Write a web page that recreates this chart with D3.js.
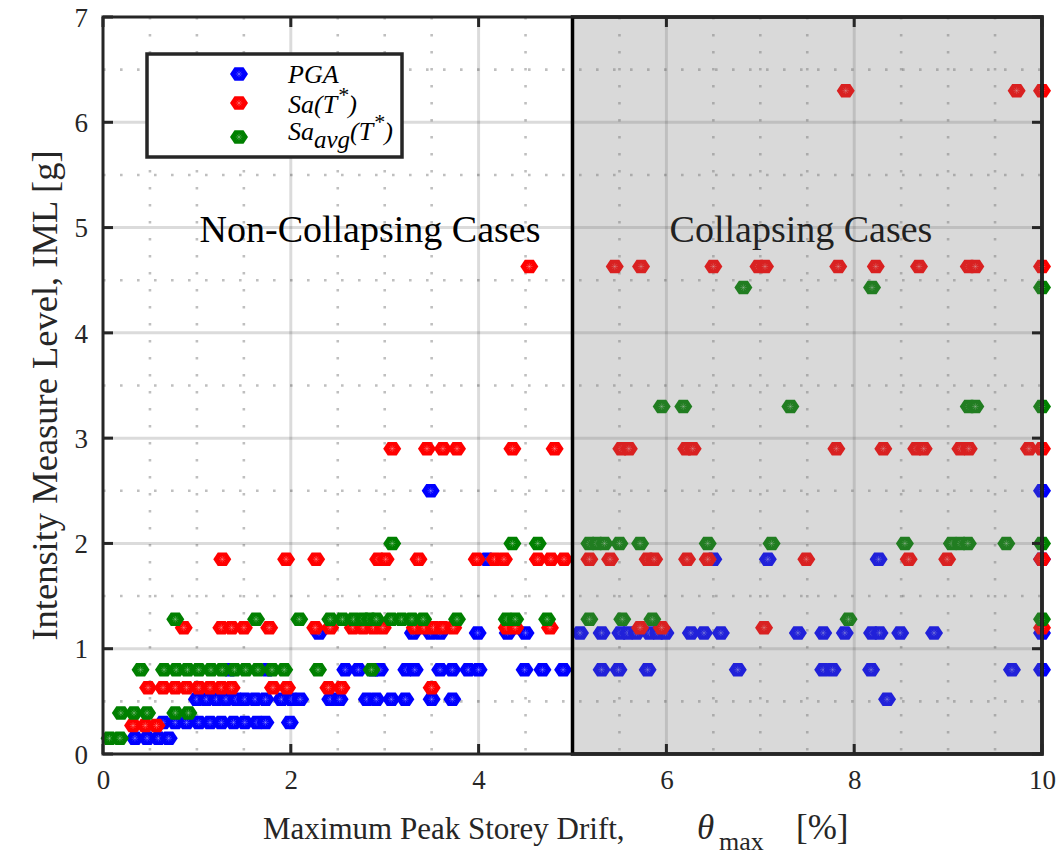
<!DOCTYPE html>
<html>
<head>
<meta charset="utf-8">
<script src="https://cdn.jsdelivr.net/npm/d3@7/dist/d3.min.js"></script>
<style>
  body { margin: 0; background: #ffffff; }
</style>
</head>
<body>
<svg id="chart" width="1061" height="856"></svg>
<script>
// ---------------------------------------------------------------
// Intensity measure levels (g) and the peak storey drifts (%) that
// each record reached at that level, one list per measure.
// ---------------------------------------------------------------
const pgaLevels = [0.15, 0.30, 0.52, 0.80, 1.15, 1.85, 2.50];
const pgaDrifts = [
  [0.34, 0.47, 0.59, 0.70],
  [0.64, 0.77, 0.89, 1.02, 1.14, 1.26, 1.39, 1.51, 1.64, 1.73, 1.99],
  [1.00, 1.10, 1.21, 1.31, 1.42, 1.51, 1.62, 1.73, 1.90, 2.01, 2.10, 2.42, 2.52,
   2.81, 2.91, 3.07, 3.22, 3.50, 3.72, 8.35],
  [1.35, 1.75, 2.58, 2.72, 2.88, 2.95, 3.23, 3.32, 3.59, 3.72, 3.89, 4.00, 4.49,
   4.68, 4.90, 5.31, 5.49, 5.80, 6.76, 7.67, 7.77, 8.18, 9.68, 10.0],
  [2.30, 3.30, 3.49, 3.59, 3.99, 4.31, 4.50, 5.08, 5.31, 5.51, 5.59, 5.68, 5.82,
   5.91, 5.99, 6.26, 6.40, 6.58, 7.40, 7.67, 7.90, 8.19, 8.27, 8.49, 8.85, 10.0],
  [4.09, 6.50, 7.08, 8.26, 10.0],
  [3.49, 10.0]
];

const saLevels = [0.27, 0.63, 1.20, 1.85, 2.90, 4.63, 6.30];
const saDrifts = [
  [0.32, 0.45, 0.57],
  [0.48, 0.64, 0.77, 0.89, 1.02, 1.14, 1.26, 1.37, 1.81, 1.96, 2.40, 2.54, 3.50],
  [0.86, 1.26, 1.37, 1.50, 1.77, 2.26, 2.42, 2.66, 2.77, 2.88, 2.98, 3.32, 3.42,
   3.52, 3.62, 3.73, 4.30, 4.39, 4.76, 5.72, 5.95, 7.04, 10.0],
  [1.27, 1.95, 2.27, 2.93, 3.01, 3.36, 3.98, 4.17, 4.27, 4.63, 4.77, 4.91, 5.18,
   5.40, 5.80, 5.87, 6.22, 6.44, 7.49, 8.58, 8.99, 10.0],
  [3.08, 3.45, 3.62, 3.77, 4.36, 4.81, 5.52, 5.60, 6.21, 6.28, 7.81, 8.31, 8.66,
   8.74, 9.13, 9.22, 9.86, 10.0],
  [4.54, 5.45, 5.73, 6.50, 6.98, 7.05, 7.83, 8.23, 8.69, 9.22, 9.29, 10.0],
  [7.91, 9.73, 10.0]
];

const saAvgLevels = [0.15, 0.39, 0.80, 1.28, 2.00, 3.30, 4.43];
const saAvgDrifts = [
  [0.07, 0.18],
  [0.19, 0.33, 0.47, 0.77, 0.91],
  [0.40, 0.65, 0.78, 0.90, 1.02, 1.15, 1.27, 1.40, 1.52, 1.65, 1.80, 1.93, 2.29, 2.86],
  [0.77, 1.63, 2.09, 2.42, 2.55, 2.67, 2.77, 2.84, 2.91, 3.07, 3.18, 3.29, 3.41,
   3.77, 4.30, 4.39, 4.73, 5.18, 5.53, 5.85, 7.94, 10.0],
  [3.08, 4.36, 4.63, 5.18, 5.26, 5.34, 5.50, 5.72, 6.44, 7.12, 8.54, 9.04, 9.13,
   9.21, 9.62, 10.0],
  [5.95, 6.18, 7.32, 9.22, 9.29, 10.0],
  [6.82, 8.19, 10.0]
];

const xTicks = [0, 2, 4, 6, 8, 10];
const yTicks = [0, 1, 2, 3, 4, 5, 6, 7];
const collapseDrift = 5;   // drift (%) beyond which a case is taken as collapsed
const seriesColors = ["#0000ff", "#ff0000", "#008000"];

// ---------------------------------------------------------------
const FONT = "'Liberation Serif', 'Times New Roman', Times, serif";
const svg = d3.select("#chart");
const x = d3.scaleLinear().domain([0, 10]).range([103, 1042]);
const y = d3.scaleLinear().domain([0, 7]).range([754, 17]);

// flatten a level/drift table into points
function toPoints(levels, drifts) {
  const pts = [];
  levels.forEach((lv, i) => drifts[i].forEach(d => pts.push({ drift: d, iml: lv })));
  return pts;
}
const series = [
  toPoints(pgaLevels, pgaDrifts),
  toPoints(saLevels, saDrifts),
  toPoints(saAvgLevels, saAvgDrifts)
];

function txt(parent, size) {
  return parent.append("text").style("font-family", FONT).style("font-size", size + "px");
}

// ---- grid -----------------------------------------------------
const grid = svg.append("g");
const minorX = d3.range(0.5, 10, 0.5).filter(v => v % 2 !== 0);
const minorY = d3.range(0.5, 7, 0.5).filter(v => v % 1 !== 0);
grid.selectAll(".mx").data(minorX).join("line")
  .attr("x1", d => x(d)).attr("x2", d => x(d))
  .attr("y1", y(7)).attr("y2", y(0))
  .attr("stroke", "#000").attr("stroke-opacity", 0.25)
  .attr("stroke-width", 2.6).attr("stroke-dasharray", "2.6,14.4");
grid.selectAll(".my").data(minorY).join("line")
  .attr("y1", d => y(d)).attr("y2", d => y(d))
  .attr("x1", x(0)).attr("x2", x(10))
  .attr("stroke", "#000").attr("stroke-opacity", 0.25)
  .attr("stroke-width", 2.6).attr("stroke-dasharray", "2.6,14.4");
grid.selectAll(".gx").data(xTicks.slice(1, -1)).join("line")
  .attr("x1", d => x(d)).attr("x2", d => x(d))
  .attr("y1", y(7)).attr("y2", y(0))
  .attr("stroke", "#000").attr("stroke-opacity", 0.14).attr("stroke-width", 3);
grid.selectAll(".gy").data(yTicks.slice(1, -1)).join("line")
  .attr("y1", d => y(d)).attr("y2", d => y(d))
  .attr("x1", x(0)).attr("x2", x(10))
  .attr("stroke", "#000").attr("stroke-opacity", 0.14).attr("stroke-width", 3);

// ---- hexagon markers -----------------------------------------
const R = 9;
const hexPath = d3.range(6).map(k => {
  const a = k * Math.PI / 3;
  return [R * Math.cos(a), R * Math.sin(a) * 0.87];
});
const hexD = "M" + hexPath.map(p => p.join(",")).join("L") + "Z";
const starD = [0, 45, 90, 135].map(deg => {
  const a = deg * Math.PI / 180, r = 3.2;
  return `M${-r * Math.cos(a)},${-r * Math.sin(a)}L${r * Math.cos(a)},${r * Math.sin(a)}`;
}).join("");

function drawMarker(g, color) {
  g.append("path").attr("d", hexD).attr("fill", color);
  g.append("path").attr("d", starD).attr("stroke", "#ffffff")
    .attr("stroke-opacity", 0.28).attr("stroke-width", 0.8).attr("fill", "none");
}

const marks = svg.append("g");
series.forEach((pts, si) => {
  marks.append("g").selectAll("g").data(pts).join("g")
    .attr("transform", d => `translate(${x(d.drift)},${y(d.iml)})`)
    .each(function () { drawMarker(d3.select(this), seriesColors[si]); });
});

// ---- region labels -------------------------------------------
txt(svg, 38).attr("x", 370).attr("y", 242)
  .attr("text-anchor", "middle").attr("fill", "#000")
  .text("Non-Collapsing Cases");
txt(svg, 38).attr("x", 801).attr("y", 242)
  .attr("text-anchor", "middle").attr("fill", "#000")
  .text("Collapsing Cases");

// ---- collapse region shading ---------------------------------
svg.append("rect")
  .attr("x", x(collapseDrift)).attr("y", y(7))
  .attr("width", x(10) - x(collapseDrift)).attr("height", y(0) - y(7))
  .attr("fill", "rgb(120,120,120)").attr("fill-opacity", 0.28)
  .attr("stroke", "#000").attr("stroke-width", 3.5);

// ---- axes box and ticks --------------------------------------
const axc = "#262626";
svg.append("rect").attr("x", x(0)).attr("y", y(7))
  .attr("width", x(10) - x(0)).attr("height", y(0) - y(7))
  .attr("fill", "none").attr("stroke", axc).attr("stroke-width", 3);

const xAxis = d3.axisBottom(x).tickValues(xTicks).tickSize(0).tickPadding(16)
  .tickFormat(d3.format("d"));
const yAxis = d3.axisLeft(y).tickValues(yTicks).tickSize(0).tickPadding(15)
  .tickFormat(d3.format("d"));
const gx = svg.append("g").attr("transform", `translate(0,${y(0)})`).call(xAxis);
const gy = svg.append("g").attr("transform", `translate(${x(0)},0)`).call(yAxis);
[gx, gy].forEach(g => {
  g.select(".domain").remove();
  g.selectAll("text").style("font-family", FONT).style("font-size", "27px")
    .attr("fill", axc);
});
gy.selectAll("text").attr("dy", "0.34em");

const tk = svg.append("g").attr("stroke", axc).attr("stroke-width", 3);
xTicks.forEach(t => {
  tk.append("line").attr("x1", x(t)).attr("x2", x(t)).attr("y1", y(0)).attr("y2", y(0) - 10);
  tk.append("line").attr("x1", x(t)).attr("x2", x(t)).attr("y1", y(7)).attr("y2", y(7) + 10);
});
yTicks.forEach(t => {
  tk.append("line").attr("y1", y(t)).attr("y2", y(t)).attr("x1", x(0)).attr("x2", x(0) + 10);
  tk.append("line").attr("y1", y(t)).attr("y2", y(t)).attr("x1", x(10)).attr("x2", x(10) - 10);
});

// ---- axis titles ---------------------------------------------
const xt = txt(svg, 31).attr("y", 839).attr("fill", axc);
xt.append("tspan").attr("x", 263).text("Maximum Peak Storey Drift,");
xt.append("tspan").attr("x", 697).style("font-style", "italic").style("font-size", "35px")
  .text("\u03b8");
xt.append("tspan").attr("x", 719).attr("dy", 11).style("font-size", "26px").text("max");
xt.append("tspan").attr("x", 796).attr("dy", -11).style("font-size", "35px").text("[%]");

txt(svg, 36.5)
  .attr("transform", `translate(57,${(y(0) + y(7)) / 2 + 10}) rotate(-90)`)
  .attr("text-anchor", "middle").attr("fill", axc)
  .text("Intensity Measure Level, IML [g]");

// ---- legend --------------------------------------------------
const lg = svg.append("g");
lg.append("rect").attr("x", 147).attr("y", 54).attr("width", 255).attr("height", 103)
  .attr("fill", "#ffffff").attr("stroke", axc).attr("stroke-width", 3.5);
const legendRows = [74, 103, 137];
legendRows.forEach((ry, i) => {
  drawMarker(lg.append("g").attr("transform", `translate(239,${ry})`), seriesColors[i]);
});
const lt = (yy) => txt(lg, 26).attr("x", 288).attr("y", yy)
  .style("font-style", "italic").attr("fill", "#000");
lt(83).text("PGA");
const t2 = lt(113);
t2.append("tspan").text("Sa(T");
t2.append("tspan").attr("dy", -11).style("font-size", "22px").text("*");
t2.append("tspan").attr("dy", 11).text(")");
const t3 = lt(140);
t3.append("tspan").text("Sa");
t3.append("tspan").attr("dy", 8).style("font-size", "25px").text("avg");
t3.append("tspan").attr("dy", -8).text("(T");
t3.append("tspan").attr("dy", -11).style("font-size", "22px").text("*");
t3.append("tspan").attr("dy", 11).text(")");
</script>
</body>
</html>
